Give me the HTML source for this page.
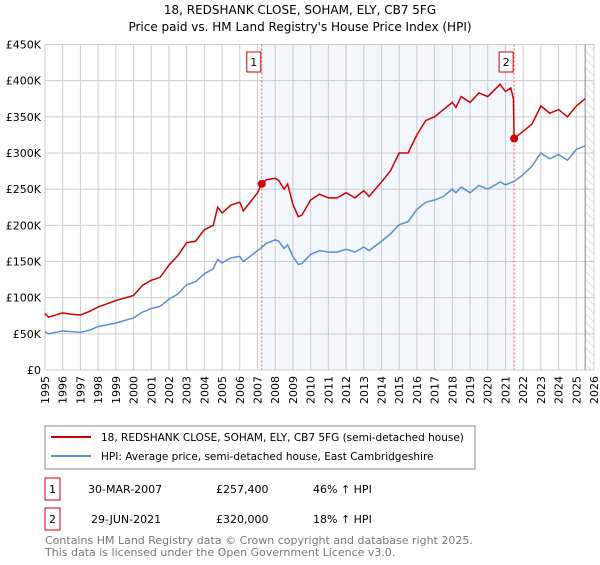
<!DOCTYPE html>
<html><head><meta charset="utf-8"><style>
body{margin:0;background:#fff;font-family:"Liberation Sans","DejaVu Sans",sans-serif;}
svg text{font-family:"DejaVu Sans","Liberation Sans",sans-serif;}
</style></head><body>
<svg id="c" width="600" height="560" viewBox="0 0 600 560">
<defs><pattern id="hatch" width="6" height="6" patternUnits="userSpaceOnUse" patternTransform="rotate(-45)"><line x1="0" y1="0" x2="0" y2="6" stroke="#ccc" stroke-width="1"/></pattern></defs>
<text x="300" y="14" text-anchor="middle" font-size="12">18, REDSHANK CLOSE, SOHAM, ELY, CB7 5FG</text>
<text x="300" y="31" text-anchor="middle" font-size="12">Price paid vs. HM Land Registry's House Price Index (HPI)</text>
<g id="plot"></g>
<rect x="45" y="426" width="430" height="43" fill="#fff" stroke="#888"/>
<line x1="51" y1="437" x2="91" y2="437" stroke="#cc0000" stroke-width="2"/>
<text x="101" y="441" font-size="10.5">18, REDSHANK CLOSE, SOHAM, ELY, CB7 5FG (semi-detached house)</text>
<line x1="51" y1="456" x2="91" y2="456" stroke="#5b8fd4" stroke-width="2"/>
<text x="101" y="460" font-size="10.5">HPI: Average price, semi-detached house, East Cambridgeshire</text>
<rect x="45" y="478" width="15" height="22" fill="#fff" stroke="#cc0000"/>
<text x="52.5" y="493" text-anchor="middle" font-size="11">1</text>
<text x="88" y="493" font-size="11">30-MAR-2007</text>
<text x="216" y="493" font-size="11">£257,400</text>
<text x="313" y="493" font-size="11">46% ↑ HPI</text>
<rect x="45" y="508" width="15" height="22" fill="#fff" stroke="#cc0000"/>
<text x="52.5" y="523" text-anchor="middle" font-size="11">2</text>
<text x="91" y="523" font-size="11">29-JUN-2021</text>
<text x="216" y="523" font-size="11">£320,000</text>
<text x="313" y="523" font-size="11">18% ↑ HPI</text>
<text x="45" y="544" font-size="11" fill="#777">Contains HM Land Registry data © Crown copyright and database right 2025.</text>
<text x="45" y="556" font-size="11" fill="#777">This data is licensed under the Open Government Licence v3.0.</text>
</svg>
<script>
const yTicks=[0,50,100,150,200,250,300,350,400,450];
const yTickLabels=["£0","£50K","£100K","£150K","£200K","£250K","£300K","£350K","£400K","£450K"];
const xYears=[1995,1996,1997,1998,1999,2000,2001,2002,2003,2004,2005,2006,2007,2008,2009,2010,2011,2012,2013,2014,2015,2016,2017,2018,2019,2020,2021,2022,2023,2024,2025,2026];
const hpiT=[1995,1995.2,1996,1996.5,1997,1997.5,1998,1999,2000,2000.5,2001,2001.5,2002,2002.5,2003,2003.5,2004,2004.5,2004.75,2005,2005.5,2006,2006.2,2007,2007.5,2008,2008.2,2008.5,2008.7,2009,2009.3,2009.5,2010,2010.5,2011,2011.5,2012,2012.5,2013,2013.3,2014,2014.5,2015,2015.5,2016,2016.5,2017,2017.5,2018,2018.2,2018.5,2019,2019.5,2020,2020.7,2021,2021.5,2022,2022.5,2023,2023.5,2024,2024.5,2025,2025.5];
const hpiV=[53,50,54,53,52,55,60,65,72,80,85,88,98,105,118,122,133,140,153,148,155,157,150,165,175,180,178,168,173,157,146,147,160,165,163,163,167,163,170,165,178,188,201,205,222,232,235,240,250,245,253,245,255,250,260,256,261,270,282,300,292,298,290,305,310];
const propT=[1995,1995.2,1996,1996.5,1997,1997.5,1998,1999,2000,2000.5,2001,2001.5,2002,2002.5,2003,2003.5,2004,2004.5,2004.75,2005,2005.5,2006,2006.2,2007,2007.24,2007.5,2008,2008.2,2008.5,2008.7,2009,2009.3,2009.5,2010,2010.5,2011,2011.5,2012,2012.5,2013,2013.3,2014,2014.5,2015,2015.5,2016,2016.5,2017,2017.5,2018,2018.2,2018.5,2019,2019.5,2020,2020.7,2021,2021.3,2021.45,2021.49,2022,2022.5,2023,2023.5,2024,2024.5,2025,2025.5];
const propV=[78,73,79,77,76,81,87,96,103,117,124,128,145,158,176,178,194,200,225,217,228,232,220,245,257.4,263,265,262,250,257,229,212,214,235,243,238,238,245,238,248,240,260,275,300,300,325,345,350,360,370,363,378,370,383,378,395,385,390,375,320,330,340,365,355,360,350,365,375];
const saleT=[2007.24,2021.49];
const saleV=[257.4,320];
const saleLabels=["1","2"];
const NS='http://www.w3.org/2000/svg';
const X0=45,X1=594,Y0=370,Y1=44.5;
const xs=t=>X0+(t-1995)/(2026-1995)*(X1-X0);
const ys=v=>Y0-v/450*(Y0-Y1);
const g=document.getElementById('plot');
function mk(tag,a,name){const e=document.createElementNS(NS,tag);for(const k in a)e.setAttribute(k,a[k]);


g.appendChild(e);return e;}
mk('rect',{x:X0,y:Y1,width:X1-X0,height:Y0-Y1,fill:'#fff'},'plot-background');
mk('rect',{x:xs(saleT[0]),y:Y1,width:xs(saleT[1])-xs(saleT[0]),height:Y0-Y1,fill:'#f3f6fd'},'ownership-shading');
mk('rect',{x:xs(2025.5),y:Y1,width:X1-xs(2025.5),height:Y0-Y1,fill:'url(#hatch)'},'forecast-hatch');
yTicks.forEach((v,i)=>{mk('line',{x1:X0,x2:X1,y1:ys(v),y2:ys(v),stroke:'#ccc'},'y-gridline');
const t=mk('text',{x:X0-4,y:ys(v)+4,'text-anchor':'end','font-size':11},'y-tick-label');t.textContent=yTickLabels[i];});
xYears.forEach(yr=>{mk('line',{x1:xs(yr),x2:xs(yr),y1:Y1,y2:Y0,stroke:'#ccc'},'x-gridline');
const t=mk('text',{x:xs(yr)+4,y:Y0+6,'text-anchor':'end','font-size':11,transform:`rotate(-90 ${xs(yr)+4} ${Y0+6})`},'x-tick-label');t.textContent=yr;});
mk('line',{x1:xs(2025.5),x2:xs(2025.5),y1:Y1,y2:Y0,stroke:'#888'},'today-line');
saleT.forEach((t,i)=>{mk('line',{x1:xs(t),x2:xs(t),y1:Y1,y2:Y0,stroke:'#e06666','stroke-dasharray':'2,2'},'sale-vline');
mk('rect',{x:xs(t)-15,y:52,width:14,height:20,fill:'#fff',stroke:'#cc0000'},'sale-marker-box');
const tx=mk('text',{x:xs(t)-8,y:66,'text-anchor':'middle','font-size':11},'sale-marker-label');tx.textContent=saleLabels[i];});
mk('polyline',{points:hpiT.map((t,i)=>xs(t)+','+ys(hpiV[i])).join(' '),fill:'none',stroke:'#5b8fd4','stroke-width':1.5},'hpi-line');
mk('polyline',{points:propT.map((t,i)=>xs(t)+','+ys(propV[i])).join(' '),fill:'none',stroke:'#cc0000','stroke-width':1.5},'property-line');
saleT.forEach((t,i)=>mk('circle',{cx:xs(t),cy:ys(saleV[i]),r:4,fill:'#cc0000'},'sale-point'));
</script>
</body></html>
